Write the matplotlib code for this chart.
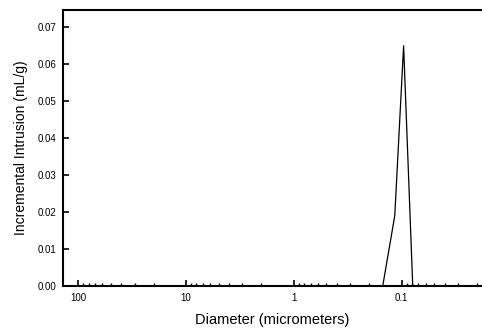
import numpy as np
import matplotlib.pyplot as plt
from matplotlib.ticker import FixedLocator, FixedFormatter, LogLocator, NullFormatter

plt.rcParams['font.family'] = ['Liberation Sans', 'DejaVu Sans']

# data
diameter = [100, 10, 1, 0.15, 0.116, 0.096, 0.079, 0.05, 0.02]
intrusion = [0, 0, 0, 0, 0.019, 0.065, 0, 0, 0]

xticks = [100, 10, 1, 0.1]
xlabels = ["100", "10", "1", "0.1"]
yticks = [0.00, 0.01, 0.02, 0.03, 0.04, 0.05, 0.06, 0.07]

fig = plt.figure(figsize=(4.82, 3.30), dpi=100)
ax = fig.add_axes([0.131, 0.133, 0.869, 0.837])

ax.plot(diameter, intrusion, color="black", lw=0.9)

ax.set_xscale("log")
ax.set_xlim(138, 0.018)
ax.set_ylim(0, 0.0747)

ax.xaxis.set_major_locator(FixedLocator(xticks))
ax.xaxis.set_major_formatter(FixedFormatter(xlabels))
ax.xaxis.set_minor_locator(LogLocator(base=10, subs=np.arange(2, 10)))
ax.xaxis.set_minor_formatter(NullFormatter())
ax.set_yticks(yticks)
ax.set_yticklabels([f"{v:.2f}" for v in yticks])

ax.tick_params(axis="both", which="major", direction="in", length=4, width=1.2,
               labelsize=7, pad=5)
ax.tick_params(axis="x", which="minor", direction="in", length=2.5, width=1)

for s in ["left", "bottom", "top"]:
    ax.spines[s].set_linewidth(1.5)
ax.spines["right"].set_visible(False)

ax.set_xlabel("Diameter (micrometers)", fontsize=10.5, labelpad=7)
ax.set_ylabel("Incremental Intrusion (mL/g)", fontsize=10, labelpad=7)

fig.savefig("out.png", dpi=100)
